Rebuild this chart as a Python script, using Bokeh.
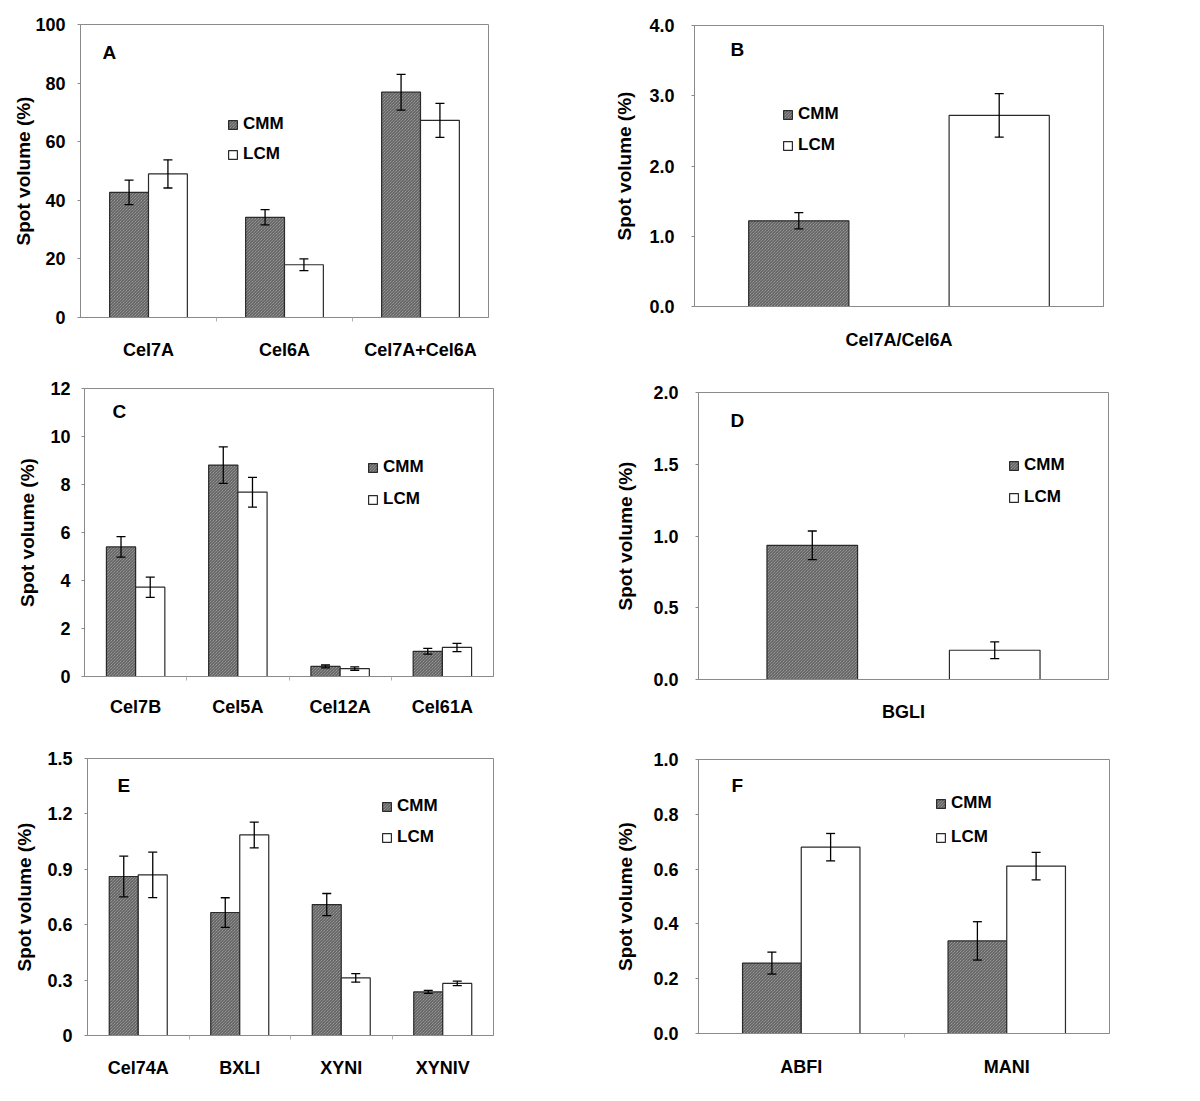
import numpy as np
from bokeh.plotting import figure
from bokeh.models import (Range1d, FixedTicker, Legend, LegendItem, Label, Whisker,
                          ColumnDataSource, TeeHead, NumeralTickFormatter)
from bokeh.layouts import column, row
from bokeh.embed import file_html
from bokeh.resources import INLINE

SERIES = ["CMM", "LCM"]

# Panel A
a_cats = ["Cel7A", "Cel6A", "Cel7A+Cel6A"]
a_cmm = [42.7, 34.2, 76.9]
a_cmm_err = [4.2, 2.6, 6.1]
a_lcm = [49.0, 18.0, 67.3]
a_lcm_err = [4.8, 2.0, 5.8]
a_yticks = [0, 20, 40, 60, 80, 100]

# Panel B
b_cats = ["Cel7A/Cel6A"]
b_cmm = [1.22]
b_cmm_err = [0.115]
b_lcm = [2.72]
b_lcm_err = [0.31]
b_yticks = [0.0, 1.0, 2.0, 3.0, 4.0]

# Panel C
c_cats = ["Cel7B", "Cel5A", "Cel12A", "Cel61A"]
c_cmm = [5.40, 8.81, 0.42, 1.05]
c_cmm_err = [0.43, 0.76, 0.06, 0.12]
c_lcm = [3.72, 7.68, 0.33, 1.21]
c_lcm_err = [0.42, 0.62, 0.07, 0.17]
c_yticks = [0, 2, 4, 6, 8, 10, 12]

# Panel D
d_cats = ["BGLI"]
d_cmm = [0.935]
d_cmm_err = [0.10]
d_lcm = [0.204]
d_lcm_err = [0.058]
d_yticks = [0.0, 0.5, 1.0, 1.5, 2.0]

# Panel E
e_cats = ["Cel74A", "BXLI", "XYNI", "XYNIV"]
e_cmm = [0.861, 0.666, 0.709, 0.236]
e_cmm_err = [0.11, 0.08, 0.06, 0.008]
e_lcm = [0.870, 1.086, 0.312, 0.282]
e_lcm_err = [0.123, 0.07, 0.023, 0.012]
e_yticks = [0.0, 0.3, 0.6, 0.9, 1.2, 1.5]

# Panel F
f_cats = ["ABFI", "MANI"]
f_cmm = [0.257, 0.338]
f_cmm_err = [0.04, 0.07]
f_lcm = [0.680, 0.611]
f_lcm_err = [0.05, 0.05]
f_yticks = [0.0, 0.2, 0.4, 0.6, 0.8, 1.0]

FONT = "Liberation Sans"
GRAY = "#8a8a8a"


def make_panel(cats, cmm, cmm_err, lcm, lcm_err, yticks, yfmt, letter,
               width, height, borders, bar_w, bar_off, legend_loc, legend_spacing,
               letter_loc, tick_standoff, label_standoff, xlab_standoff, zero_label=None):
    n = len(cats)
    p = figure(width=width, height=height, output_backend="svg", toolbar_location=None,
               x_range=Range1d(0, n), y_range=Range1d(yticks[0], yticks[-1]),
               min_border_left=borders[0], min_border_right=borders[1],
               min_border_top=borders[2], min_border_bottom=borders[3])
    p.frame_align = False
    p.title.visible = False
    p.grid.visible = False
    p.outline_line_color = GRAY
    p.outline_line_width = 1
    p.background_fill_color = "white"
    p.border_fill_color = "white"

    centers = np.arange(n) + 0.5
    x_cmm = centers - bar_off
    x_lcm = centers + bar_off

    src_c = ColumnDataSource(dict(x=x_cmm, top=cmm,
                                  upper=np.array(cmm) + np.array(cmm_err),
                                  lower=np.array(cmm) - np.array(cmm_err)))
    src_l = ColumnDataSource(dict(x=x_lcm, top=lcm,
                                  upper=np.array(lcm) + np.array(lcm_err),
                                  lower=np.array(lcm) - np.array(lcm_err)))

    r_c = p.vbar(x="x", top="top", bottom=0, width=bar_w, source=src_c,
                 fill_color="#b0b0b0", hatch_pattern="\\", hatch_color="#505050",
                 hatch_scale=3, hatch_weight=1,
                 line_color="#2a2a2a", line_width=1.2)
    r_l = p.vbar(x="x", top="top", bottom=0, width=bar_w, source=src_l,
                 fill_color="white", line_color="#2a2a2a", line_width=1.2)

    for src in (src_c, src_l):
        w = Whisker(source=src, base="x", upper="upper", lower="lower",
                    dimension="height", line_color="black", line_width=1.3,
                    upper_head=TeeHead(size=9, line_width=1.3, line_color="black"),
                    lower_head=TeeHead(size=9, line_width=1.3, line_color="black"),
                    level="overlay")
        p.add_layout(w)

    # y axis
    ya = p.yaxis[0]
    ya.ticker = FixedTicker(ticks=yticks, minor_ticks=[])
    ya.formatter = NumeralTickFormatter(format=yfmt)
    if zero_label is not None:
        ya.major_label_overrides = {0: zero_label}
    ya.axis_line_color = GRAY
    ya.major_tick_line_color = GRAY
    ya.major_tick_out = 3
    ya.major_tick_in = 0
    ya.minor_tick_line_color = None
    ya.major_label_text_font = FONT
    ya.major_label_text_font_style = "bold"
    ya.major_label_text_font_size = "18px"
    ya.major_label_text_color = "black"
    ya.major_label_standoff = tick_standoff
    ya.axis_label = "Spot volume (%)"
    ya.axis_label_text_font = FONT
    ya.axis_label_text_font_style = "bold"
    ya.axis_label_text_font_size = "19px"
    ya.axis_label_text_color = "black"
    ya.axis_label_standoff = label_standoff

    # x axis
    xa = p.xaxis[0]
    xa.axis_label = None
    xa.ticker = FixedTicker(ticks=list(centers), minor_ticks=list(np.arange(1, n)))
    xa.major_label_overrides = {float(c): name for c, name in zip(centers, cats)}
    xa.axis_line_color = GRAY
    xa.major_tick_line_color = None
    xa.major_tick_out = 0
    xa.major_tick_in = 0
    xa.minor_tick_line_color = "#b0b0b0"
    xa.minor_tick_out = 4
    xa.minor_tick_in = 0
    xa.major_label_text_font = FONT
    xa.major_label_text_font_style = "bold"
    xa.major_label_text_font_size = "18px"
    xa.major_label_text_color = "black"
    xa.major_label_standoff = xlab_standoff

    legend = Legend(items=[LegendItem(label=SERIES[0], renderers=[r_c]),
                           LegendItem(label=SERIES[1], renderers=[r_l])],
                    location=legend_loc, orientation="vertical",
                    glyph_width=11, glyph_height=11, label_height=11,
                    spacing=legend_spacing, padding=0, margin=0, label_standoff=5,
                    label_text_font=FONT, label_text_font_style="bold",
                    label_text_font_size="17px", label_text_color="black",
                    border_line_color=None, background_fill_alpha=0)
    p.add_layout(legend)

    p.add_layout(Label(x=letter_loc[0], y=letter_loc[1], x_units="screen", y_units="screen",
                       text=letter, text_font=FONT, text_font_style="bold",
                       text_font_size="19px", text_baseline="middle", text_color="black"))
    return p


CL_W = 1 / 3.5
CL_OFF = CL_W / 2

pA = make_panel(a_cats, a_cmm, a_cmm_err, a_lcm, a_lcm_err, a_yticks, "0", "A",
                600, 365, (80, 112, 24, 48), CL_W, CL_OFF, (147, 153), 10, (22, 265),
                12, -2, 18)
pB = make_panel(b_cats, b_cmm, b_cmm_err, b_lcm, b_lcm_err, b_yticks, "0.0", "B",
                600, 365, (94, 97, 25, 59), 0.245, 0.245, (88, 151), 11, (36, 257),
                17, 11, 23)
pC = make_panel(c_cats, c_cmm, c_cmm_err, c_lcm, c_lcm_err, c_yticks, "0", "C",
                600, 365, (84, 107, 23, 54), CL_W, CL_OFF, (283, 167), 12, (28, 265),
                11, 9, 16)
pD = make_panel(d_cats, d_cmm, d_cmm_err, d_lcm, d_lcm_err, d_yticks, "0.0", "D",
                600, 365, (98, 92, 27, 51), 0.221, 0.2225, (310, 172), 12, (32, 259),
                17, 14, 22)
pE = make_panel(e_cats, e_cmm, e_cmm_err, e_lcm, e_lcm_err, e_yticks, "0.0", "E",
                600, 371, (87, 107, 28, 66), CL_W, CL_OFF, (294, 188), 11, (30, 250),
                12, 9, 18, zero_label="0")
pF = make_panel(f_cats, f_cmm, f_cmm_err, f_lcm, f_lcm_err, f_yticks, "0.0", "F",
                600, 371, (98, 91, 29, 68), CL_W, CL_OFF, (237, 186), 14, (33, 248),
                17, 14, 19)

layout = column(row(pA, pB, spacing=0), row(pC, pD, spacing=0), row(pE, pF, spacing=0), spacing=0)

with open("out.html", "w") as fh:
    fh.write(file_html(layout, INLINE))
